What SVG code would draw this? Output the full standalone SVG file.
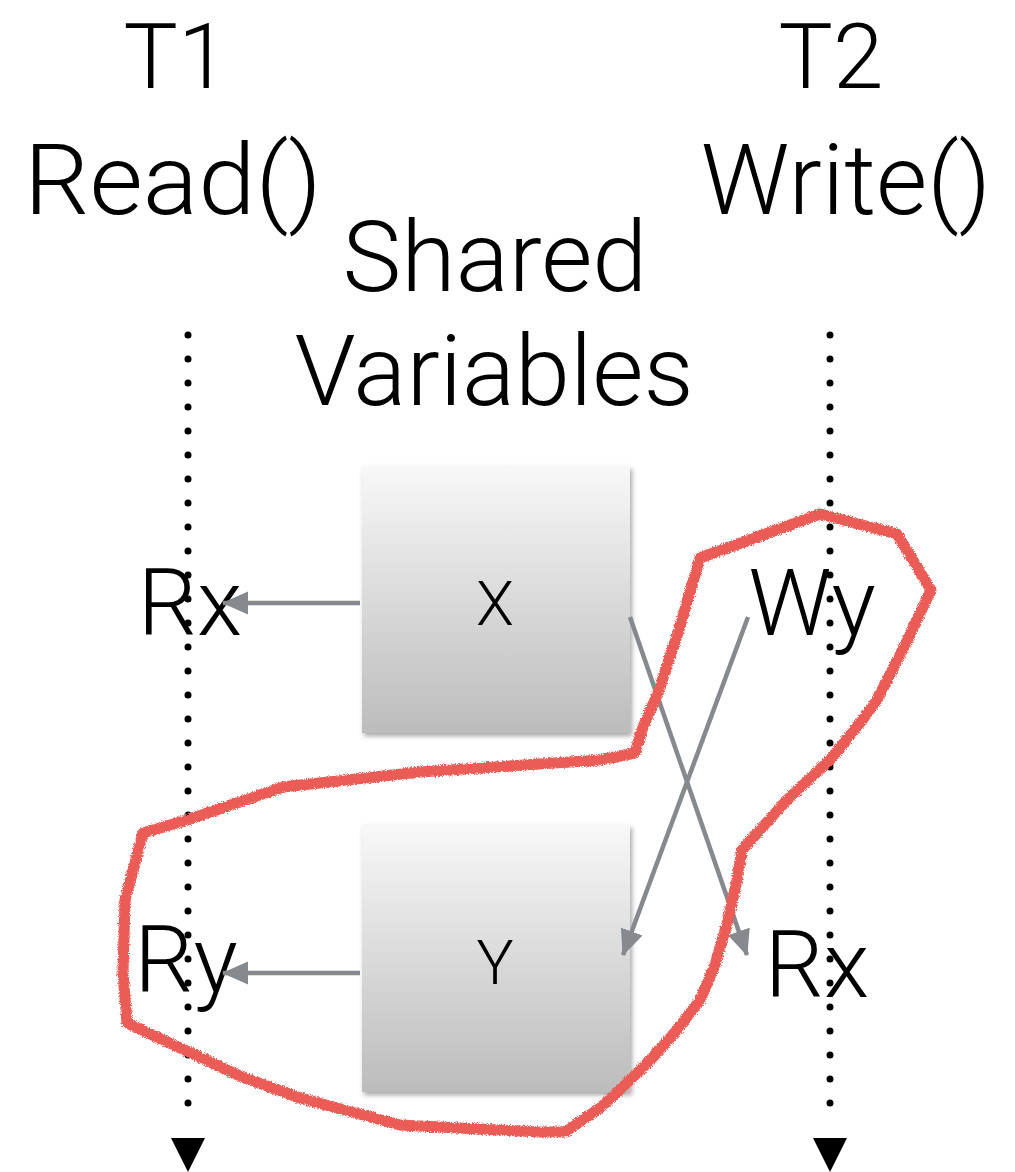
<svg xmlns="http://www.w3.org/2000/svg" width="1015" height="1172" viewBox="0 0 1015 1172">
  <defs>
    <style>
      .big { font-family: Roboto, "Liberation Sans", sans-serif; font-weight: 300; font-size: 99px; fill: #000; text-anchor: middle; }
      .title { font-family: Roboto, "Liberation Sans", sans-serif; font-weight: 300; font-size: 91px; fill: #000; text-anchor: middle; }
      .lbl { font-family: Roboto, "Liberation Sans", sans-serif; font-weight: 300; font-size: 93px; fill: #000; text-anchor: middle; }
      .box-text { font-family: Roboto, "Liberation Sans", sans-serif; font-weight: 300; font-size: 62px; fill: #000; text-anchor: middle; }
      .life { stroke: #000; stroke-width: 7; stroke-linecap: round; stroke-dasharray: 0 24; fill: none; }
      .conn { stroke: #86898d; stroke-width: 4.5; fill: none; }
      .loop { stroke: #ea5b55; stroke-width: 11; fill: none; stroke-linejoin: round; }
    </style>
    <linearGradient id="boxGrad" x1="0" y1="0" x2="0" y2="1">
      <stop offset="0" stop-color="#f8f8f8"/>
      <stop offset="1" stop-color="#bcbcbc"/>
    </linearGradient>
    <filter id="shadow" x="-10%" y="-10%" width="125%" height="125%">
      <feDropShadow dx="2" dy="3" stdDeviation="2.5" flood-color="#000" flood-opacity="0.35"/>
    </filter>
    <filter id="rough" x="-5%" y="-5%" width="110%" height="110%">
      <feTurbulence type="fractalNoise" baseFrequency="1.1" numOctaves="2" seed="3" result="n"/>
      <feDisplacementMap in="SourceGraphic" in2="n" scale="5" xChannelSelector="R" yChannelSelector="G"/>
    </filter>
    <marker id="arrow" markerUnits="userSpaceOnUse" markerWidth="27" markerHeight="25" refX="25" refY="11.5" orient="auto">
      <path d="M0,0 L26,11.5 L0,23 Z" fill="#86898d"/>
    </marker>
  </defs>

  <rect width="1015" height="1172" fill="#fff"/>

  <g id="header-t1">
    <text class="title" x="176" y="88">T1</text>
    <text class="big" x="173" y="214" textLength="298" lengthAdjust="spacingAndGlyphs">Read()</text>
  </g>
  <g id="header-t2">
    <text class="title" x="831" y="88">T2</text>
    <text class="big" x="846" y="214">Write()</text>
  </g>
  <g id="shared-label">
    <text class="big" x="495" y="291">Shared</text>
    <text class="big" x="494" y="405">Variables</text>
  </g>

  <g id="lifeline-t1">
    <line class="life" x1="188" y1="335" x2="188" y2="1127"/>
    <polygon points="171,1138 205,1138 188,1172" fill="#000"/>
  </g>
  <g id="lifeline-t2">
    <line class="life" x1="830" y1="335" x2="830" y2="1127"/>
    <polygon points="813,1138 847,1138 830,1172" fill="#000"/>
  </g>

  <g id="box-x">
    <rect x="362" y="466" width="268" height="267" fill="url(#boxGrad)" filter="url(#shadow)"/>
    <text class="box-text" x="495" y="625">X</text>
  </g>
  <g id="box-y">
    <rect x="362" y="825" width="268" height="267" fill="url(#boxGrad)" filter="url(#shadow)"/>
    <text class="box-text" x="495" y="984">Y</text>
  </g>

  <g id="t1-rx"><text class="lbl" x="190" y="635">Rx</text></g>
  <g id="t2-wy"><text class="lbl" x="812" y="635">Wy</text></g>
  <g id="t1-ry"><text class="lbl" x="186" y="992">Ry</text></g>
  <g id="t2-rx"><text class="lbl" x="817" y="997">Rx</text></g>

  <g id="connectors">
    <line class="conn" x1="360" y1="603" x2="223" y2="603" marker-end="url(#arrow)"/>
    <line class="conn" x1="360" y1="973" x2="223" y2="973" marker-end="url(#arrow)"/>
    <line class="conn" x1="630" y1="617" x2="747" y2="955" marker-end="url(#arrow)"/>
    <line class="conn" x1="748" y1="617" x2="623" y2="955" marker-end="url(#arrow)"/>
  </g>

  <g id="highlight-loop">
    <path class="loop" filter="url(#rough)" d="M820,514 L897,534 L931,590 L906,643 L877,700 L860,723 L830,760 L787,800 L742,850 L737,880 L728,920 L715,965 L700,1000 L677,1030 L653,1057 L628,1082 L600,1108 L565,1132 L540,1132 L400,1125 L300,1098 L240,1076 L127,1023 L123,973 L125,900 L143,833 L187,820 L283,787 L420,772 L600,760 L635,753 L643,727 L658,693 L678,633 L700,558 L760,536 Z"/>
  </g>
</svg>
